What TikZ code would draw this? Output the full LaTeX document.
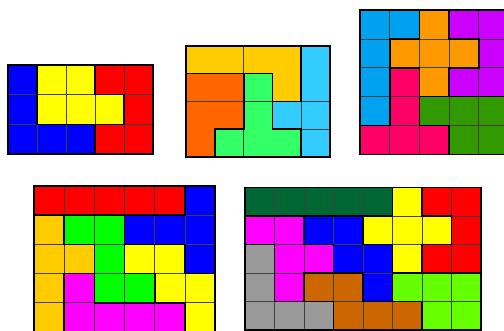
\documentclass[tikz,border=0pt]{standalone}
\definecolor{cBlue}{HTML}{0000FF}
\definecolor{cYellow}{HTML}{FFFF00}
\definecolor{cRed}{HTML}{FF0000}
\definecolor{cGold}{HTML}{FFCC00}
\definecolor{cOrange}{HTML}{FF6600}
\definecolor{cMint}{HTML}{33FF66}
\definecolor{cSky}{HTML}{33CCFF}
\definecolor{cAzure}{HTML}{00A2F0}
\definecolor{cAmber}{HTML}{FF9900}
\definecolor{cPurple}{HTML}{CC00FF}
\definecolor{cPink}{HTML}{FF0066}
\definecolor{cLeaf}{HTML}{339900}
\definecolor{cGreen}{HTML}{00FF00}
\definecolor{cMagenta}{HTML}{FF00FF}
\definecolor{cDark}{HTML}{006633}
\definecolor{cGray}{HTML}{999999}
\definecolor{cBrown}{HTML}{CC6600}
\definecolor{cLime}{HTML}{66FF00}
\tikzset{
  piece/.style={fill=#1},
  outline/.style={draw=black, line width=1.6pt, line join=miter},
  gridline/.style={draw=black!75, line width=0.7pt},
  frame/.style={draw=black, line width=1.8pt}
}
\begin{document}
\begin{tikzpicture}[x=1pt,y=-1pt]
\useasboundingbox (0,0) rectangle (504,331);
\clip (0,0) rectangle (504,331);
\fill[white] (0,0) rectangle (504,331);

% ---------- Puzzle 1 (5x3) ----------
\begin{scope}[shift={(8pt,-65pt)}, x=29pt, y=-29.7pt]
  \path[piece=cBlue] (0,0)--(1,0)--(1,2)--(3,2)--(3,3)--(0,3)--cycle;
  \path[piece=cYellow] (1,0)--(3,0)--(3,1)--(4,1)--(4,2)--(1,2)--cycle;
  \path[piece=cRed] (3,0)--(5,0)--(5,3)--(3,3)--(3,2)--(4,2)--(4,1)--(3,1)--cycle;
  \foreach \i in {1,2,3,4} \draw[gridline] (\i,0) -- (\i,3);
  \foreach \j in {1,2} \draw[gridline] (0,\j) -- (5,\j);
  \draw[outline] (0,0)--(1,0)--(1,2)--(3,2)--(3,3)--(0,3)--cycle;
  \draw[outline] (1,0)--(3,0)--(3,1)--(4,1)--(4,2)--(1,2)--cycle;
  \draw[outline] (3,0)--(5,0)--(5,3)--(3,3)--(3,2)--(4,2)--(4,1)--(3,1)--cycle;
  \draw[frame] (0,0) rectangle (5,3);
\end{scope}

% ---------- Puzzle 2 (5x4) ----------
\begin{scope}[shift={(186.3pt,-46pt)}, x=28.7pt, y=-27.7pt]
  \path[piece=cGold] (0,0)--(4,0)--(4,2)--(3,2)--(3,1)--(0,1)--cycle;
  \path[piece=cOrange] (0,1)--(2,1)--(2,3)--(1,3)--(1,4)--(0,4)--cycle;
  \path[piece=cMint] (2,1)--(3,1)--(3,3)--(4,3)--(4,4)--(1,4)--(1,3)--(2,3)--cycle;
  \path[piece=cSky] (4,0)--(5,0)--(5,4)--(4,4)--(4,3)--(3,3)--(3,2)--(4,2)--cycle;
  \draw[gridline] (2,0) -- (2,1);
  \draw[gridline] (2,3) -- (2,4);
  \draw[gridline] (4,2) -- (4,3);
  \draw[gridline] (0,2) -- (3,2);
  \draw[gridline] (4,2) -- (5,2);
  \draw[gridline] (4,3) -- (5,3);
  \draw[outline] (0,0)--(4,0)--(4,2)--(3,2)--(3,1)--(0,1)--cycle;
  \draw[outline] (0,1)--(2,1)--(2,3)--(1,3)--(1,4)--(0,4)--cycle;
  \draw[outline] (2,1)--(3,1)--(3,3)--(4,3)--(4,4)--(1,4)--(1,3)--(2,3)--cycle;
  \draw[outline] (4,0)--(5,0)--(5,4)--(4,4)--(4,3)--(3,3)--(3,2)--(4,2)--cycle;
  \draw[frame] (0,0) rectangle (5,4);
\end{scope}

% ---------- Puzzle 3 (5x5, cut at right edge) ----------
\begin{scope}[shift={(360pt,-10pt)}, x=29.7pt, y=-28.9pt]
  \path[piece=cAzure] (0,0)--(2,0)--(2,1)--(1,1)--(1,4)--(0,4)--cycle;
  \path[piece=cAmber] (2,0)--(3,0)--(3,1)--(4,1)--(4,2)--(3,2)--(3,3)--(2,3)--(2,2)--(1,2)--(1,1)--(2,1)--cycle;
  \path[piece=cPurple] (3,0)--(5,0)--(5,3)--(3,3)--(3,2)--(4,2)--(4,1)--(3,1)--cycle;
  \path[piece=cPink] (1,2)--(2,2)--(2,4)--(3,4)--(3,5)--(0,5)--(0,4)--(1,4)--cycle;
  \path[piece=cLeaf] (2,3)--(5,3)--(5,5)--(3,5)--(3,4)--(2,4)--cycle;
  \foreach \i in {1,2,3,4} \draw[gridline] (\i,0) -- (\i,5);
  \foreach \j in {1,2,3,4} \draw[gridline] (0,\j) -- (5,\j);
  \draw[outline] (0,0)--(2,0)--(2,1)--(1,1)--(1,4)--(0,4)--cycle;
  \draw[outline] (2,0)--(3,0)--(3,1)--(4,1)--(4,2)--(3,2)--(3,3)--(2,3)--(2,2)--(1,2)--(1,1)--(2,1)--cycle;
  \draw[outline] (3,0)--(5,0)--(5,3)--(3,3)--(3,2)--(4,2)--(4,1)--(3,1)--cycle;
  \draw[outline] (1,2)--(2,2)--(2,4)--(3,4)--(3,5)--(0,5)--(0,4)--(1,4)--cycle;
  \draw[outline] (2,3)--(5,3)--(5,5)--(3,5)--(3,4)--(2,4)--cycle;
  \draw[frame] (0,0) rectangle (5,5);
\end{scope}

% ---------- Puzzle 4 (6x5) ----------
\begin{scope}[shift={(34pt,-186pt)}, x=30.2pt, y=-29.2pt]
  \path[piece=cRed] (0,0)--(5,0)--(5,1)--(0,1)--cycle;
  \path[piece=cBlue] (5,0)--(6,0)--(6,3)--(5,3)--(5,2)--(3,2)--(3,1)--(5,1)--cycle;
  \path[piece=cGold] (0,1)--(1,1)--(1,2)--(2,2)--(2,3)--(1,3)--(1,5)--(0,5)--cycle;
  \path[piece=cGreen] (1,1)--(3,1)--(3,3)--(4,3)--(4,4)--(2,4)--(2,2)--(1,2)--cycle;
  \path[piece=cYellow] (3,2)--(5,2)--(5,3)--(6,3)--(6,5)--(5,5)--(5,4)--(4,4)--(4,3)--(3,3)--cycle;
  \path[piece=cMagenta] (1,3)--(2,3)--(2,4)--(5,4)--(5,5)--(1,5)--cycle;
  \foreach \i in {1,2,3,4,5} \draw[gridline] (\i,0) -- (\i,5);
  \foreach \j in {1,2,3,4} \draw[gridline] (0,\j) -- (6,\j);
  \draw[outline] (0,0)--(5,0)--(5,1)--(0,1)--cycle;
  \draw[outline] (5,0)--(6,0)--(6,3)--(5,3)--(5,2)--(3,2)--(3,1)--(5,1)--cycle;
  \draw[outline] (0,1)--(1,1)--(1,2)--(2,2)--(2,3)--(1,3)--(1,5)--(0,5)--cycle;
  \draw[outline] (1,1)--(3,1)--(3,3)--(4,3)--(4,4)--(2,4)--(2,2)--(1,2)--cycle;
  \draw[outline] (3,2)--(5,2)--(5,3)--(6,3)--(6,5)--(5,5)--(5,4)--(4,4)--(4,3)--(3,3)--cycle;
  \draw[outline] (1,3)--(2,3)--(2,4)--(5,4)--(5,5)--(1,5)--cycle;
  \draw[frame] (0,0) rectangle (6,5);
\end{scope}

% ---------- Puzzle 5 (8x5) ----------
\begin{scope}[shift={(245pt,-187.5pt)}, x=29.5pt, y=-28.5pt]
  \path[piece=cDark] (0,0)--(5,0)--(5,1)--(0,1)--cycle;
  \path[piece=cYellow] (5,0)--(6,0)--(6,1)--(7,1)--(7,2)--(6,2)--(6,3)--(5,3)--(5,2)--(4,2)--(4,1)--(5,1)--cycle;
  \path[piece=cRed] (6,0)--(8,0)--(8,3)--(6,3)--(6,2)--(7,2)--(7,1)--(6,1)--cycle;
  \path[piece=cMagenta] (0,1)--(2,1)--(2,2)--(3,2)--(3,3)--(2,3)--(2,4)--(1,4)--(1,2)--(0,2)--cycle;
  \path[piece=cBlue] (2,1)--(4,1)--(4,2)--(5,2)--(5,4)--(4,4)--(4,3)--(3,3)--(3,2)--(2,2)--cycle;
  \path[piece=cGray] (0,2)--(1,2)--(1,4)--(3,4)--(3,5)--(0,5)--cycle;
  \path[piece=cBrown] (2,3)--(4,3)--(4,4)--(6,4)--(6,5)--(3,5)--(3,4)--(2,4)--cycle;
  \path[piece=cLime] (5,3)--(8,3)--(8,5)--(6,5)--(6,4)--(5,4)--cycle;
  \foreach \i in {1,2,3,4,5,6,7} \draw[gridline] (\i,0) -- (\i,5);
  \foreach \j in {1,2,3,4} \draw[gridline] (0,\j) -- (8,\j);
  \draw[outline] (0,0)--(5,0)--(5,1)--(0,1)--cycle;
  \draw[outline] (5,0)--(6,0)--(6,1)--(7,1)--(7,2)--(6,2)--(6,3)--(5,3)--(5,2)--(4,2)--(4,1)--(5,1)--cycle;
  \draw[outline] (6,0)--(8,0)--(8,3)--(6,3)--(6,2)--(7,2)--(7,1)--(6,1)--cycle;
  \draw[outline] (0,1)--(2,1)--(2,2)--(3,2)--(3,3)--(2,3)--(2,4)--(1,4)--(1,2)--(0,2)--cycle;
  \draw[outline] (2,1)--(4,1)--(4,2)--(5,2)--(5,4)--(4,4)--(4,3)--(3,3)--(3,2)--(2,2)--cycle;
  \draw[outline] (0,2)--(1,2)--(1,4)--(3,4)--(3,5)--(0,5)--cycle;
  \draw[outline] (2,3)--(4,3)--(4,4)--(6,4)--(6,5)--(3,5)--(3,4)--(2,4)--cycle;
  \draw[outline] (5,3)--(8,3)--(8,5)--(6,5)--(6,4)--(5,4)--cycle;
  \draw[frame] (0,0) rectangle (8,5);
\end{scope}
\end{tikzpicture}
\end{document}
